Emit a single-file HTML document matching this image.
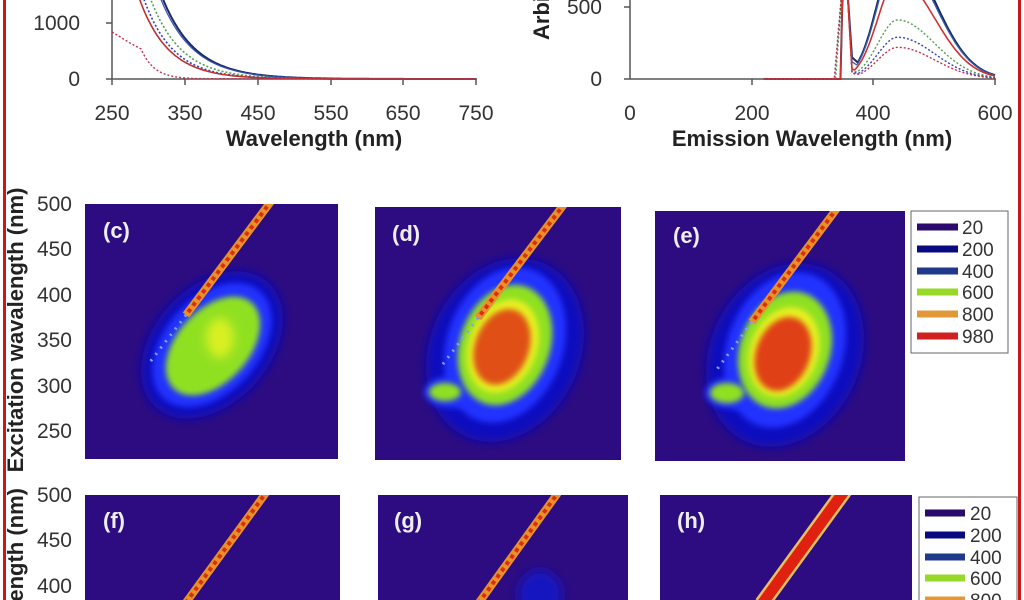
<!DOCTYPE html><html style="overflow:hidden;height:600px"><head><meta charset="utf-8"><style>
html,body{margin:0;padding:0}
body{background:#fff;width:1024px;height:600px;overflow:hidden}
svg{display:block}
text{font-family:"Liberation Sans",sans-serif;fill:#333}
.t{font-size:21px}
.s{font-size:19px}
.b{font-size:22px;font-weight:bold;fill:#222}
.lab{font-size:22px;font-weight:bold;fill:#eee}
</style></head><body>
<svg id="s" width="1024" height="600" viewBox="0 0 1024 600" overflow="hidden">
<defs>
<filter id="bl" x="-50%" y="-50%" width="200%" height="200%"><feGaussianBlur stdDeviation="5"/></filter>
<filter id="bl2" x="-50%" y="-50%" width="200%" height="200%"><feGaussianBlur stdDeviation="3"/></filter>
<clipPath id="cc"><rect x="85" y="204" width="253" height="255"/></clipPath>
<clipPath id="cd"><rect x="375" y="207" width="246" height="253"/></clipPath>
<clipPath id="ce"><rect x="655" y="211" width="250" height="250"/></clipPath>
<clipPath id="cf"><rect x="85" y="495" width="255" height="105"/></clipPath>
<clipPath id="cg"><rect x="378" y="495" width="250" height="105"/></clipPath>
<clipPath id="ch"><rect x="660" y="495" width="252" height="105"/></clipPath>
<clipPath id="all"><rect x="0" y="0" width="1024" height="600"/></clipPath>
</defs>
<g clip-path="url(#all)">
<rect x="3" y="0" width="3" height="600" fill="#c81818"/>
<rect x="1018" y="0" width="3" height="600" fill="#c81818"/>

<g stroke="#555" stroke-width="1.5"><line x1="112" y1="0" x2="112" y2="79"/><line x1="106" y1="79" x2="477" y2="79"/>
<line x1="106" y1="23" x2="112" y2="23"/>
<line x1="112" y1="79" x2="112" y2="85"/><line x1="185" y1="79" x2="185" y2="85"/><line x1="258" y1="79" x2="258" y2="85"/><line x1="331" y1="79" x2="331" y2="85"/><line x1="403" y1="79" x2="403" y2="85"/><line x1="476" y1="79" x2="476" y2="85"/></g>
<g id="ga"></g>
<text class="t" x="80" y="30" text-anchor="end">1000</text>
<text class="t" x="80" y="86" text-anchor="end">0</text>
<g class="t" text-anchor="middle"><text x="112" y="120">250</text><text x="185" y="120">350</text><text x="258" y="120">450</text><text x="331" y="120">550</text><text x="403" y="120">650</text><text x="476" y="120">750</text></g>
<text class="b" x="314" y="146" text-anchor="middle">Wavelength (nm)</text>

<g stroke="#555" stroke-width="1.5"><line x1="630" y1="0" x2="630" y2="79"/><line x1="624" y1="79" x2="996" y2="79"/>
<line x1="624" y1="7" x2="630" y2="7"/>
<line x1="752" y1="79" x2="752" y2="85"/><line x1="873" y1="79" x2="873" y2="85"/><line x1="995" y1="79" x2="995" y2="85"/></g>
<g id="gb"></g>
<text class="t" x="602" y="14" text-anchor="end">500</text>
<text class="t" x="602" y="86" text-anchor="end">0</text>
<text class="b" transform="translate(549,40) rotate(-90)" text-anchor="start">Arbi</text>
<g class="t" text-anchor="middle"><text x="630" y="120">0</text><text x="752" y="120">200</text><text x="873" y="120">400</text><text x="995" y="120">600</text></g>
<text class="b" x="812" y="146" text-anchor="middle">Emission Wavelength (nm)</text>

<g class="t" text-anchor="end"><text x="72" y="211">500</text><text x="72" y="256">450</text><text x="72" y="302">400</text><text x="72" y="347">350</text><text x="72" y="393">300</text><text x="72" y="438">250</text>
<text x="72" y="502">500</text><text x="72" y="547">450</text><text x="72" y="593">400</text></g>
<text class="b" transform="translate(23,330) rotate(-90)" text-anchor="middle">Excitation wavalength (nm)</text>
<text class="b" transform="translate(23,488) rotate(-90)" text-anchor="end">Excitation wavalength (nm)</text>

<g clip-path="url(#cc)">
<rect x="85" y="204" width="253" height="255" fill="#2c0c80"/>
<ellipse cx="212" cy="345" rx="58" ry="84" fill="#1010c0" filter="url(#bl)" transform="rotate(42 212 345)"/>
<ellipse cx="212" cy="345" rx="47" ry="72" fill="#2030ff" filter="url(#bl2)" transform="rotate(42 212 345)"/>
<ellipse cx="213" cy="346" rx="36" ry="58" fill="#90e020" filter="url(#bl2)" transform="rotate(42 213 346)"/>
<ellipse cx="220" cy="338" rx="14" ry="20" fill="#d8f020" filter="url(#bl)"/>
<line x1="272" y1="200" x2="186" y2="315" stroke="#e8902a" stroke-width="8"/>
<line x1="272" y1="200" x2="186" y2="315" stroke="#d83010" stroke-width="4" stroke-dasharray="4 4"/>
<line x1="186" y1="315" x2="150" y2="362" stroke="#80a0ff" stroke-width="3" stroke-dasharray="2 6"/>
<text class="lab" x="103" y="238">(c)</text>
</g>
<g clip-path="url(#cd)">
<rect x="375" y="207" width="246" height="253" fill="#2c0c80"/>
<ellipse cx="505" cy="350" rx="75" ry="95" fill="#1010c0" filter="url(#bl)" transform="rotate(25 505 350)"/>
<ellipse cx="505" cy="345" rx="58" ry="80" fill="#2030ff" filter="url(#bl2)" transform="rotate(20 505 345)"/>
<ellipse cx="452" cy="392" rx="28" ry="16" fill="#2030ff" filter="url(#bl2)"/>
<ellipse cx="505" cy="345" rx="45" ry="62" fill="#90e020" filter="url(#bl2)" transform="rotate(20 505 345)"/>
<ellipse cx="445" cy="392" rx="16" ry="9" fill="#90e020" filter="url(#bl2)"/>
<ellipse cx="503" cy="346" rx="34" ry="48" fill="#e8f020" filter="url(#bl2)" transform="rotate(20 503 346)"/>
<ellipse cx="502" cy="347" rx="27" ry="39" fill="#e05018" filter="url(#bl2)" transform="rotate(20 502 347)"/>
<line x1="565" y1="203" x2="478" y2="318" stroke="#e8902a" stroke-width="8"/>
<line x1="565" y1="203" x2="478" y2="318" stroke="#d83010" stroke-width="4" stroke-dasharray="4 4"/>
<line x1="478" y1="318" x2="440" y2="368" stroke="#80a0ff" stroke-width="3" stroke-dasharray="2 6"/>
<text class="lab" x="392" y="241">(d)</text>
</g>
<g clip-path="url(#ce)">
<rect x="655" y="211" width="250" height="250" fill="#2c0c80"/>
<ellipse cx="785" cy="355" rx="75" ry="95" fill="#1010c0" filter="url(#bl)" transform="rotate(25 785 355)"/>
<ellipse cx="785" cy="350" rx="58" ry="80" fill="#2030ff" filter="url(#bl2)" transform="rotate(20 785 350)"/>
<ellipse cx="733" cy="393" rx="28" ry="16" fill="#2030ff" filter="url(#bl2)"/>
<ellipse cx="785" cy="350" rx="45" ry="60" fill="#90e020" filter="url(#bl2)" transform="rotate(20 785 350)"/>
<ellipse cx="727" cy="393" rx="17" ry="10" fill="#90e020" filter="url(#bl2)"/>
<ellipse cx="784" cy="352" rx="34" ry="46" fill="#e8f020" filter="url(#bl2)" transform="rotate(20 784 352)"/>
<ellipse cx="783" cy="354" rx="27" ry="38" fill="#e04018" filter="url(#bl2)" transform="rotate(20 783 354)"/>
<line x1="838" y1="207" x2="752" y2="322" stroke="#e8902a" stroke-width="8"/>
<line x1="838" y1="207" x2="752" y2="322" stroke="#d83010" stroke-width="4" stroke-dasharray="4 4"/>
<line x1="752" y1="322" x2="715" y2="372" stroke="#80a0ff" stroke-width="3" stroke-dasharray="2 6"/>
<text class="lab" x="673" y="243">(e)</text>
</g>
<rect x="911" y="211" width="97" height="142" fill="#fff" stroke="#666"/>
<g stroke-width="7"><line x1="917" y1="227" x2="958" y2="227" stroke="#2a0a6a"/><line x1="917" y1="249" x2="958" y2="249" stroke="#0a0a80"/><line x1="917" y1="271" x2="958" y2="271" stroke="#1f3a8a"/><line x1="917" y1="292" x2="958" y2="292" stroke="#98d828"/><line x1="917" y1="314" x2="958" y2="314" stroke="#e09838"/><line x1="917" y1="336" x2="958" y2="336" stroke="#d02020"/></g>
<g class="s"><text x="962" y="234">20</text><text x="962" y="256">200</text><text x="962" y="278">400</text><text x="962" y="299">600</text><text x="962" y="321">800</text><text x="962" y="343">980</text></g>

<g clip-path="url(#cf)"><rect x="85" y="495" width="255" height="105" fill="#2c0c80"/>
<line x1="268" y1="490" x2="185" y2="604" stroke="#e8902a" stroke-width="8"/><line x1="268" y1="490" x2="185" y2="604" stroke="#d83010" stroke-width="4" stroke-dasharray="4 4"/>
<text class="lab" x="103" y="528">(f)</text></g>
<g clip-path="url(#cg)"><rect x="378" y="495" width="250" height="105" fill="#2c0c80"/>
<ellipse cx="540" cy="595" rx="22" ry="25" fill="#1818c0" filter="url(#bl)"/>
<line x1="560" y1="490" x2="478" y2="604" stroke="#e8902a" stroke-width="8"/><line x1="560" y1="490" x2="478" y2="604" stroke="#d83010" stroke-width="4" stroke-dasharray="4 4"/>
<text class="lab" x="394" y="528">(g)</text></g>
<g clip-path="url(#ch)"><rect x="660" y="495" width="252" height="105" fill="#2c0c80"/>
<line x1="845" y1="490" x2="762" y2="604" stroke="#e8c060" stroke-width="16"/><line x1="845" y1="490" x2="762" y2="604" stroke="#e02010" stroke-width="11"/>
<text class="lab" x="677" y="528">(h)</text></g>
<rect x="919" y="497" width="98" height="110" fill="#fff" stroke="#666"/>
<g stroke-width="7"><line x1="925" y1="513" x2="965" y2="513" stroke="#2a0a6a"/><line x1="925" y1="535" x2="965" y2="535" stroke="#0a0a80"/><line x1="925" y1="557" x2="965" y2="557" stroke="#1f3a8a"/><line x1="925" y1="578" x2="965" y2="578" stroke="#98d828"/><line x1="925" y1="600" x2="965" y2="600" stroke="#e09838"/></g>
<g class="s"><text x="970" y="520">20</text><text x="970" y="542">200</text><text x="970" y="564">400</text><text x="970" y="585">600</text><text x="970" y="607">800</text></g>
</g>
</svg>
<script>
var NS="http://www.w3.org/2000/svg";
function P(g,d,c,dash,w){var p=document.createElementNS(NS,"path");p.setAttribute("d",d);p.setAttribute("fill","none");p.setAttribute("stroke",c);p.setAttribute("stroke-width",w||1.6);if(dash)p.setAttribute("stroke-dasharray",dash);document.getElementById(g).appendChild(p);}
function ax(l){return 112+(l-250)*0.728} function ay(v){return 79-v*0.056}
function abs(l1000,k){var d="";for(var l=250;l<=750;l+=2){var v=1000*Math.exp(-(l-l1000)/k);if(ay(v)<-5)continue;d+=(d?"L":"M")+ax(l).toFixed(1)+","+ay(v).toFixed(1);}return d;}
P("ga",abs(336,45),"#1a2a5a",null,2);P("ga",abs(333,45),"#3050c0",null,1.2);
P("ga",abs(318,42),"#50a050","2 2");P("ga",abs(308,40),"#3040c0","2 2");P("ga",abs(302,40),"#c03030",null,1.6);
var d="";for(var l=250;l<=750;l+=2){var val=l<275?840-8*(l-250):(l<290?640-7*(l-275):Math.max(535*Math.exp(-(l-290)/18),8*Math.exp(-(l-350)/100)));d+=(d?"L":"M")+ax(l).toFixed(1)+","+ay(val).toFixed(1);}P("ga",d,"#c03050","2 2",1.4);
function ex(v){return 630+v*0.6083} function ey(v){return 79-v*0.144}
function em(P0,dip,start,c,dash,w){var d="";for(var l=220;l<=600;l+=1){var v;if(l<start)v=0;else if(l<350)v=Math.min(700,(l-start)/(350-start)*700);else if(l<356)v=700;else if(l<365)v=700-(l-356)/9*(700-dip);else{var s=l<440?40:75;var g=P0*Math.exp(-Math.pow((l-440)/s,2)/1.3);v=Math.max(g,dip*(1-(l-365)/40));v=Math.max(v,15*(600-l)/100);}var y=Math.max(ey(v),-3);d+=(d?"L":"M")+ex(l).toFixed(1)+","+y.toFixed(1);}P("gb",d,c,dash,w);}
em(900,150,346,"#1a2a5a",null,2);em(860,120,346,"#3060b0",null,1.3);em(410,60,338,"#50a050","2 2",1.4);em(290,50,336,"#3040c0","2 2",1.4);em(220,40,336,"#c03050","2 2",1.4);em(700,70,346,"#d03030",null,1.6);
</script>
</body></html>
